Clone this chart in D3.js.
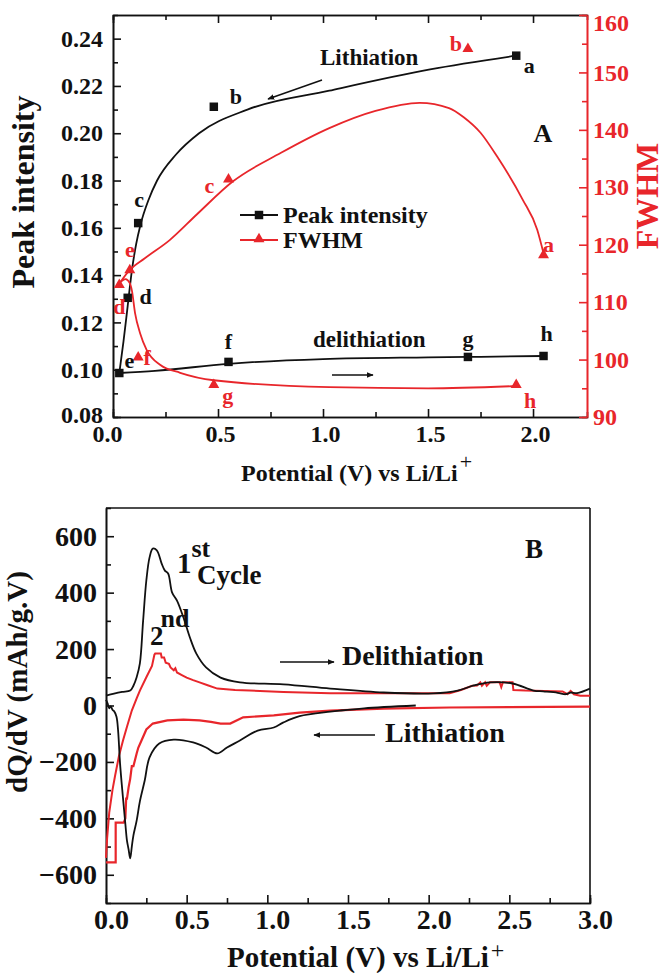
<!DOCTYPE html>
<html lang="en">
<head>
<meta charset="UTF-8">
<title>Peak intensity, FWHM and dQ/dV vs potential</title>
<script src="https://d3js.org/d3.v7.min.js"></script>
<style>
  body { margin: 0; background: #fff; }
  svg { font-family: "Liberation Serif", "Times New Roman", serif; font-weight: bold; }
  .axis path, .axis line { stroke: #111; stroke-width: 1.6; }
  .axis text { font-family: "Liberation Serif", "Times New Roman", serif; font-weight: bold; fill: #111; }
  .red path, .red line { stroke: #e8262b; }
  .red text { fill: #e8262b; }
</style>
</head>
<body>
<div id="chart"></div>
<script>
// ---------- panel A data ----------
var peakLabels = ["a", "b", "c", "d", "e", "f", "g", "h"];
var peakV = [1.92, 0.48, 0.12, 0.07, 0.03, 0.55, 1.69, 2.05];
var peakI = [0.2328, 0.2112, 0.162, 0.1304, 0.0986, 0.1033, 0.1054, 0.1058];

var fwhmLabels = ["a", "b", "c", "d", "e", "f", "g", "h"];
var fwhmV = [2.05, 1.69, 0.55, 0.03, 0.08, 0.12, 0.48, 1.92];
var fwhmVal = [118.2, 154.1, 131.4, 113.0, 115.6, 100.4, 95.6, 95.6];

// guide curves drawn through the points
var peakLithV = [0.03, 0.05, 0.07, 0.09, 0.11, 0.13, 0.17, 0.21, 0.30, 0.41, 0.64, 1.03, 1.51, 1.92];
var peakLithI = [0.0986, 0.112, 0.127, 0.142, 0.153, 0.161, 0.172, 0.180, 0.191, 0.200, 0.210, 0.218, 0.227, 0.2328];
var peakDelithV = [0.03, 0.2, 0.55, 1.0, 1.5, 1.69, 2.05];
var peakDelithI = [0.0986, 0.0995, 0.1025, 0.1045, 0.1052, 0.1054, 0.1058];

var fwhmLithV = [0.03, 0.08, 0.15, 0.27, 0.40, 0.57, 0.80, 1.03, 1.25, 1.46, 1.60, 1.67, 1.75, 1.83, 1.95, 2.02, 2.05];
var fwhmLithVal = [113.2, 115.6, 117.6, 120.8, 125.3, 131.0, 136.0, 140.3, 143.3, 144.7, 143.8, 142.2, 139.5, 135.3, 127.9, 122.6, 118.5];
var fwhmDelithV = [0.03, 0.06, 0.08, 0.09, 0.105, 0.129, 0.16, 0.224, 0.32, 0.48, 1.03, 1.5, 1.92];
var fwhmDelithVal = [113.3, 114.0, 113.3, 112.0, 108.1, 104.6, 101.7, 99.1, 97.7, 96.4, 95.2, 95.0, 95.4];

// ---------- panel B data (dQ/dV) ----------
var c1DelithV = [0.0, 0.05, 0.10, 0.15, 0.17, 0.19, 0.21, 0.23, 0.25, 0.27, 0.29, 0.315, 0.345, 0.365, 0.385, 0.41, 0.44, 0.48, 0.52, 0.56, 0.62, 0.71, 0.83, 1.1, 1.39, 1.72, 2.03, 2.18, 2.28, 2.38, 2.52, 2.65, 2.71, 2.8, 2.85, 2.88, 2.92, 3.0];
var c1DelithQ = [35, 42, 48, 53, 70, 100, 149, 300, 443, 525, 556, 550, 503, 478, 468, 400, 372, 312, 241, 184, 135, 99, 82, 75, 60, 46, 43, 53, 71, 82, 78, 53, 50, 45, 40, 46, 44, 60];

var c1LithV = [1.92, 1.6, 1.45, 1.39, 1.2, 1.1, 1.04, 0.94, 0.83, 0.75, 0.69, 0.62, 0.54, 0.42, 0.33, 0.27, 0.24, 0.21, 0.19, 0.17, 0.16, 0.15, 0.14, 0.13, 0.12, 0.105, 0.087, 0.075, 0.065, 0.05, 0.04, 0.03, 0.02, 0.01, 0.0];
var c1LithQ = [0, -10, -18, -22, -38, -60, -78, -89, -124, -149, -170, -149, -131, -121, -135, -184, -266, -340, -408, -460, -500, -542, -510, -479, -420, -326, -205, -89, -40, -20, -15, -3, -10, 8, 20];

var c2DelithV = [0.0, 0.007, 0.02, 0.04, 0.056, 0.08, 0.105, 0.13, 0.16, 0.19, 0.21, 0.25, 0.285, 0.30, 0.305, 0.34, 0.345, 0.36, 0.37, 0.39, 0.40, 0.42, 0.43, 0.44, 0.47, 0.50, 0.54, 0.58, 0.63, 0.69, 0.8, 0.89, 1.1, 1.39, 1.72, 2.13, 2.2, 2.27, 2.3, 2.32, 2.33, 2.35, 2.36, 2.38, 2.44, 2.45, 2.46, 2.52, 2.525, 2.6, 2.83, 2.86, 2.88, 2.9, 2.94, 3.0];
var c2DelithQ = [-540, -470, -380, -300, -250, -180, -125, -75, -18, 25, 53, 100, 140, 180, 184, 184, 170, 170, 152, 148, 135, 125, 132, 117, 108, 99, 90, 82, 72, 60, 55, 53, 48, 43, 43, 43, 55, 70, 71, 82, 70, 82, 70, 82, 82, 65, 82, 82, 55, 53, 50, 40, 52, 40, 35, 35];

var c2LithV = [3.0, 2.5, 2.13, 1.72, 1.39, 1.2, 1.04, 0.85, 0.77, 0.71, 0.65, 0.58, 0.48, 0.38, 0.29, 0.25, 0.22, 0.20, 0.19, 0.17, 0.16, 0.15, 0.14, 0.13, 0.125, 0.12, 0.11, 0.06, 0.06, 0.0];
var c2LithQ = [-4, -6, -7, -11, -18, -25, -35, -42, -64, -64, -58, -53, -50, -53, -64, -85, -124, -150, -170, -215, -215, -260, -290, -330, -330, -400, -415, -415, -556, -556];

// ---------- layout (not data) ----------
var W = 664, H = 973;
var red = "#e8262b", ink = "#111";
var peakLabelOff = [[13, 10], [22, -10], [1, -23], [18, -1], [10, -12], [0, -20], [0, -18], [3, -22]];
var fwhmLabelOff = [[5, -10], [-12, -5], [-19, 7], [0, 22], [0, -20], [9, 1], [14, 11], [14, 16]];

var svg = d3.select("#chart").append("svg")
    .attr("width", W)
    .attr("height", H);

var defs = svg.append("defs");
defs.append("marker")
    .attr("id", "arrow")
    .attr("viewBox", "0 0 10 10")
    .attr("refX", 9).attr("refY", 5)
    .attr("markerWidth", 7).attr("markerHeight", 7)
    .attr("markerUnits", "userSpaceOnUse")
    .attr("orient", "auto")
    .append("path")
    .attr("d", "M0,1 L10,5 L0,9 Z")
    .attr("fill", ink);

function zip(xs, ys) {
    return xs.map(function(x, i) { return [x, ys[i]]; });
}

function addAxis(g, gen, cls) {
    var a = svg.append("g").attr("class", "axis " + (cls || "")).attr("transform", g).call(gen);
    return a;
}

// ================= PANEL A =================
var xA = d3.scaleLinear().domain([0, 2.257]).range([113, 587]);
var yA = d3.scaleLinear().domain([0.08, 0.25]).range([417, 15]);
var yA2 = d3.scaleLinear().domain([90, 160]).range([417, 15]);

// minor ticks first
addAxis("translate(0,417)", d3.axisBottom(xA).tickValues([0.25, 0.75, 1.25, 1.75]).tickSize(-5).tickFormat(""));
addAxis("translate(0,15)", d3.axisTop(xA).tickValues([0.25, 0.75, 1.25, 1.75]).tickSize(-5).tickFormat(""));
addAxis("translate(113,0)", d3.axisLeft(yA).tickValues(d3.range(0.09, 0.25, 0.02)).tickSize(-5).tickFormat(""));
addAxis("translate(587,0)", d3.axisRight(yA2).tickValues(d3.range(95, 160, 10)).tickSize(-5).tickFormat(""), "red");

var axA = addAxis("translate(0,417)", d3.axisBottom(xA).tickValues([0, 0.5, 1, 1.5, 2]).tickSize(-8).tickSizeOuter(0)
    .tickPadding(8).tickFormat(d3.format(".1f")));
axA.selectAll("text").style("font-size", "24px")
    .attr("dx", function(d) { return d === 0 ? -6 : 2; });
addAxis("translate(0,15)", d3.axisTop(xA).tickValues([0, 0.5, 1, 1.5, 2]).tickSize(-8).tickSizeOuter(0).tickFormat(""));
var ayA = addAxis("translate(113,0)", d3.axisLeft(yA).tickValues(d3.range(0.08, 0.2401, 0.02)).tickSize(-8).tickSizeOuter(0)
    .tickPadding(10).tickFormat(d3.format(".2f")));
ayA.selectAll("text").style("font-size", "24px")
    .attr("dy", function(d) { return d < 0.085 ? "0.22em" : "0.32em"; });
var ayA2 = addAxis("translate(587,0)", d3.axisRight(yA2).tickValues(d3.range(90, 161, 10)).tickSize(-8).tickSizeOuter(0)
    .tickPadding(6).tickFormat(d3.format("d")), "red");
ayA2.selectAll("text").style("font-size", "24px")
    .attr("dy", function(d) { return d === 160 ? "0.65em" : "0.32em"; });

var lineA = d3.line().curve(d3.curveMonotoneX).x(function(d) { return xA(d[0]); });

var plotA = svg.append("g");
plotA.append("path").datum(zip(peakLithV, peakLithI))
    .attr("d", lineA.y(function(d) { return yA(d[1]); }))
    .attr("fill", "none").attr("stroke", ink).attr("stroke-width", 1.8);
plotA.append("path").datum(zip(peakDelithV, peakDelithI))
    .attr("d", lineA.y(function(d) { return yA(d[1]); }))
    .attr("fill", "none").attr("stroke", ink).attr("stroke-width", 1.8);
plotA.append("path").datum(zip(fwhmLithV, fwhmLithVal))
    .attr("d", lineA.y(function(d) { return yA2(d[1]); }))
    .attr("fill", "none").attr("stroke", red).attr("stroke-width", 1.8);
plotA.append("path").datum(zip(fwhmDelithV, fwhmDelithVal))
    .attr("d", lineA.y(function(d) { return yA2(d[1]); }))
    .attr("fill", "none").attr("stroke", red).attr("stroke-width", 1.8);

var square = d3.symbol().type(d3.symbolSquare).size(72);
var tri = d3.symbol().type(d3.symbolTriangle).size(52);

plotA.selectAll(".sq").data(zip(peakV, peakI)).enter().append("path")
    .attr("class", "sq")
    .attr("d", square)
    .attr("transform", function(d) { return "translate(" + xA(d[0]) + "," + yA(d[1]) + ")"; })
    .attr("fill", ink);
plotA.selectAll(".tri").data(zip(fwhmV, fwhmVal)).enter().append("path")
    .attr("class", "tri")
    .attr("d", tri)
    .attr("transform", function(d) { return "translate(" + xA(d[0]) + "," + yA2(d[1]) + ")"; })
    .attr("fill", red);

plotA.selectAll(".plab").data(peakLabels).enter().append("text")
    .attr("x", function(d, i) { return xA(peakV[i]) + peakLabelOff[i][0]; })
    .attr("y", function(d, i) { return yA(peakI[i]) + peakLabelOff[i][1]; })
    .attr("dy", "0.32em")
    .attr("text-anchor", "middle")
    .style("font-size", "22px").attr("fill", ink)
    .text(function(d) { return d; });
plotA.selectAll(".flab").data(fwhmLabels).enter().append("text")
    .attr("x", function(d, i) { return xA(fwhmV[i]) + fwhmLabelOff[i][0]; })
    .attr("y", function(d, i) { return yA2(fwhmVal[i]) + fwhmLabelOff[i][1]; })
    .attr("dy", "0.32em")
    .attr("text-anchor", "middle")
    .style("font-size", "22px").attr("fill", red)
    .text(function(d) { return d; });

// legend
var leg = svg.append("g");
leg.append("line").attr("x1", 240).attr("x2", 278).attr("y1", 215).attr("y2", 215).attr("stroke", ink).attr("stroke-width", 1.8);
leg.append("path").attr("d", square).attr("transform", "translate(259,215)").attr("fill", ink);
leg.append("text").attr("x", 283).attr("y", 223).style("font-size", "24px").attr("fill", ink).text("Peak intensity");
leg.append("line").attr("x1", 240).attr("x2", 278).attr("y1", 240).attr("y2", 240).attr("stroke", red).attr("stroke-width", 1.8);
leg.append("path").attr("d", tri).attr("transform", "translate(259,239)").attr("fill", red);
leg.append("text").attr("x", 283).attr("y", 248).style("font-size", "24px").attr("fill", ink).text("FWHM");

// annotations
svg.append("text").attr("x", 320).attr("y", 65).style("font-size", "23px").attr("fill", ink).text("Lithiation");
svg.append("line").attr("x1", 322).attr("y1", 80).attr("x2", 268).attr("y2", 99)
    .attr("stroke", ink).attr("stroke-width", 1.5).attr("marker-end", "url(#arrow)");
svg.append("text").attr("x", 313).attr("y", 347).style("font-size", "23px").attr("fill", ink).text("delithiation");
svg.append("line").attr("x1", 332).attr("y1", 375).attr("x2", 373).attr("y2", 375)
    .attr("stroke", ink).attr("stroke-width", 1.5).attr("marker-end", "url(#arrow)");
svg.append("text").attr("x", 543).attr("y", 142).attr("text-anchor", "middle").style("font-size", "26px").attr("fill", ink).text("A");

// axis titles
svg.append("text").attr("transform", "translate(34,192) rotate(-90)").attr("text-anchor", "middle")
    .style("font-size", "32px").attr("fill", ink).text("Peak intensity");
svg.append("text").attr("transform", "translate(658,196) rotate(-90)").attr("text-anchor", "middle")
    .style("font-size", "32px").attr("fill", red).text("FWHM");
var tA = svg.append("text").attr("x", 241).attr("y", 481).style("font-size", "24px").attr("fill", ink);
tA.append("tspan").text("Potential (V) vs Li/Li");
tA.append("tspan").attr("dy", -12).attr("dx", 2).style("font-size", "22px").style("font-weight", "normal").text("+");

// ================= PANEL B =================
var xB = d3.scaleLinear().domain([0, 3]).range([106, 590]);
var yB = d3.scaleLinear().domain([-700, 700]).range([903, 508]);

svg.append("line").attr("x1", 106).attr("x2", 590).attr("y1", 508).attr("y2", 508).attr("stroke", ink).attr("stroke-width", 1.6);
svg.append("line").attr("x1", 590).attr("x2", 590).attr("y1", 508).attr("y2", 903).attr("stroke", ink).attr("stroke-width", 1.6);

addAxis("translate(0,903)", d3.axisBottom(xB).tickValues([0.25, 0.75, 1.25, 1.75, 2.25, 2.75]).tickSize(-5).tickFormat(""));
addAxis("translate(106,0)", d3.axisLeft(yB).tickValues(d3.range(-500, 700, 200)).tickSize(-5).tickFormat(""));
var axB = addAxis("translate(0,903)", d3.axisBottom(xB).tickValues([0, 0.5, 1, 1.5, 2, 2.5, 3]).tickSize(-8).tickSizeOuter(0)
    .tickPadding(6).tickFormat(d3.format(".1f")));
axB.selectAll("text").style("font-size", "28px").attr("dx", 5);
var ayB = addAxis("translate(106,0)", d3.axisLeft(yB).tickValues(d3.range(-600, 601, 200)).tickSize(-8).tickSizeOuter(0)
    .tickPadding(9).tickFormat(d3.format("d")));
ayB.selectAll("text").style("font-size", "28px");

var lineB = d3.line().x(function(d) { return xB(d[0]); }).y(function(d) { return yB(d[1]); });
var smoothB = d3.line().curve(d3.curveCatmullRom.alpha(0.5)).x(function(d) { return xB(d[0]); }).y(function(d) { return yB(d[1]); });

var plotB = svg.append("g");
plotB.append("path").datum(zip(c2DelithV, c2DelithQ)).attr("d", lineB)
    .attr("fill", "none").attr("stroke", red).attr("stroke-width", 2);
plotB.append("path").datum(zip(c2LithV, c2LithQ)).attr("d", lineB)
    .attr("fill", "none").attr("stroke", red).attr("stroke-width", 2.2);
plotB.append("path").datum(zip(c1DelithV, c1DelithQ)).attr("d", smoothB)
    .attr("fill", "none").attr("stroke", ink).attr("stroke-width", 1.8);
plotB.append("path").datum(zip(c1LithV, c1LithQ)).attr("d", smoothB)
    .attr("fill", "none").attr("stroke", ink).attr("stroke-width", 1.8);

// annotations B
var t1 = svg.append("text").attr("x", 177).attr("y", 573).style("font-size", "29px").attr("fill", ink);
t1.append("tspan").text("1");
t1.append("tspan").attr("dy", -16).style("font-size", "26px").text("st");
svg.append("text").attr("x", 197).attr("y", 584).style("font-size", "27px").attr("fill", ink).text("Cycle");
var t2 = svg.append("text").attr("x", 150).attr("y", 645).style("font-size", "27px").attr("fill", ink);
t2.append("tspan").text("2");
t2.append("tspan").attr("dy", -18).attr("dx", -3).style("font-size", "26px").text("nd");
svg.append("text").attr("x", 534).attr("y", 558).attr("text-anchor", "middle").style("font-size", "27px").attr("fill", ink).text("B");
svg.append("text").attr("x", 342).attr("y", 665).style("font-size", "28px").attr("fill", ink).text("Delithiation");
svg.append("line").attr("x1", 280).attr("y1", 662).attr("x2", 334).attr("y2", 662)
    .attr("stroke", ink).attr("stroke-width", 1.6).attr("marker-end", "url(#arrow)");
svg.append("text").attr("x", 385).attr("y", 742).style("font-size", "28px").attr("fill", ink).text("Lithiation");
svg.append("line").attr("x1", 375).attr("y1", 735).attr("x2", 314).attr("y2", 735)
    .attr("stroke", ink).attr("stroke-width", 1.6).attr("marker-end", "url(#arrow)");

svg.append("text").attr("transform", "translate(27,682) rotate(-90)").attr("text-anchor", "middle")
    .style("font-size", "29px").attr("fill", ink).text("dQ/dV (mAh/g.V)");
var tB = svg.append("text").attr("x", 227).attr("y", 967).style("font-size", "29px").attr("fill", ink);
tB.append("tspan").text("Potential (V) vs Li/Li");
tB.append("tspan").attr("dy", -9).attr("dx", 2).style("font-size", "24px").style("font-weight", "normal").text("+");
</script>
</body>
</html>
